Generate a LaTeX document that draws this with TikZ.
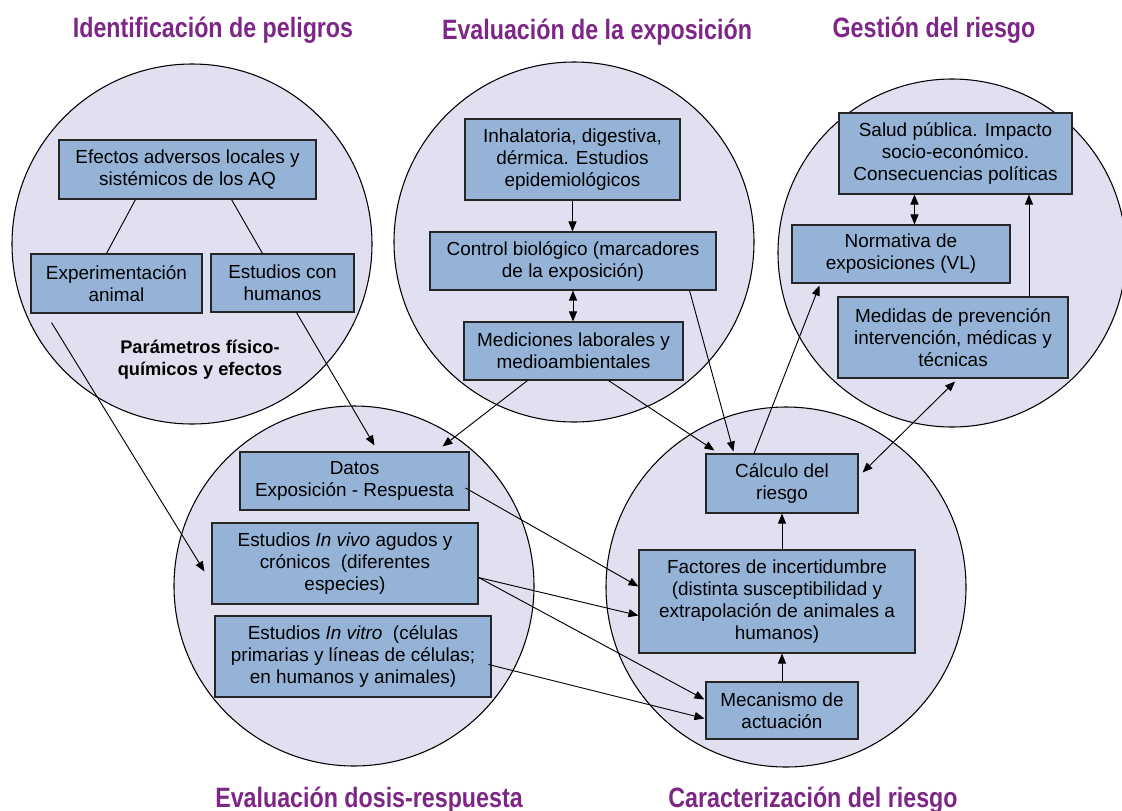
\documentclass[tikz,border=0pt]{standalone}
\usepackage{fontspec}
\setsansfont{Liberation Sans}
\newfontfamily\titlefont[FakeStretch=0.83]{Liberation Sans}
\usetikzlibrary{arrows.meta, calc}
\definecolor{circlefill}{RGB}{224,224,241}
\definecolor{boxfill}{RGB}{149,179,215}
\definecolor{titlepurple}{RGB}{125,38,135}

\begin{document}
\begin{tikzpicture}[x=0.75pt, y=-0.75pt, font=\sffamily\fontsize{14.2}{16.5}\selectfont]
	\tikzset{
		stage/.style={draw=black, fill=circlefill, line width=0.8pt},
		item/.style={draw=black!85, fill=boxfill, line width=0.8pt, align=center, inner sep=0pt},
		heading/.style={text=titlepurple, font=\titlefont\bfseries\fontsize{21}{25}\selectfont, anchor=base},
		link/.style={line width=0.7pt},
		flow/.style={link, -{Triangle[length=7.5pt, width=6pt]}},
		both/.style={link, {Triangle[length=7.5pt, width=6pt]}-{Triangle[length=7.5pt, width=6pt]}},
	}
	\useasboundingbox (0,0) rectangle (1122,811);

	\coordinate (peligros) at (192,244);
	\coordinate (exposicion) at (574,242);
	\coordinate (gestion) at (952,253);
	\coordinate (dosis) at (354,586);
	\coordinate (caracter) at (786,587);

	\draw[stage] (peligros) circle[radius=135pt];
	\draw[stage] (exposicion) circle[radius=135pt];
	\draw[stage] (gestion) circle[radius=130.5pt];
	\draw[stage] (dosis) circle[radius=135pt];
	\draw[stage] (caracter) circle[radius=135pt];

	\node[heading] (tpeligros) at (213,37) {Identificación de peligros};
	\node[heading] (texposicion) at (597,39) {Evaluación de la exposición};
	\node[heading] (tgestion) at (934,37) {Gestión del riesgo};
	\node[heading] (tdosis) at (369,807) {Evaluación dosis-respuesta};
	\node[heading] (tcaracter) at (813,807) {Caracterización del riesgo};

	\node[item, minimum width=192.75pt, minimum height=44.25pt] (efectos) at (187.5,169.5) {Efectos adversos locales y\\sistémicos de los AQ};
	\node[item, minimum width=128.25pt, minimum height=44.25pt] (animal) at (116.5,283.5) {Experimentación\\animal};
	\node[item, minimum width=107.25pt, minimum height=43.5pt] (humanos) at (282.5,283) {Estudios con\\humanos};
	\node[align=center, font=\sffamily\bfseries\fontsize{13.7}{16.5}\selectfont] (parametros) at (200,360) {Parámetros físico-\\químicos y efectos};

	\node[item, minimum width=161.25pt, minimum height=60.75pt] (vias) at (572.5,159.5) {Inhalatoria, digestiva,\\dérmica. Estudios\\epidemiológicos};
	\node[item, minimum width=214.5pt, minimum height=43.5pt] (control) at (573,261) {Control biológico (marcadores\\de la exposición)};
	\node[item, minimum width=164.25pt, minimum height=43.5pt] (mediciones) at (573.5,351) {Mediciones laborales y\\medioambientales};

	\node[item, minimum width=174.75pt, minimum height=60.75pt] (salud) at (955.5,153.5) {Salud pública. Impacto\\socio-económico.\\Consecuencias políticas};
	\node[item, minimum width=163.5pt, minimum height=43.5pt] (normativa) at (901,254) {Normativa de\\exposiciones (VL)};
	\node[item, minimum width=172.5pt, minimum height=60.75pt] (medidas) at (953,337.5) {Medidas de prevención\\intervención, médicas y\\técnicas};

	\node[item, minimum width=171.75pt, minimum height=43.5pt] (datos) at (354.5,481) {Datos\\Exposición - Respuesta};
	\node[item, minimum width=199.5pt, minimum height=60.75pt] (invivo) at (345,563.5) {Estudios \textit{In vivo} agudos y\\crónicos\ \ (diferentes\\especies)};
	\node[item, minimum width=207pt, minimum height=60.75pt] (invitro) at (353,656.5) {Estudios \textit{In vitro}\ \ (células\\primarias y líneas de células;\\en humanos y animales)};

	\node[item, minimum width=114pt, minimum height=44.25pt] (calculo) at (782,483.5) {Cálculo del\\riesgo};
	\node[item, minimum width=207pt, minimum height=77.25pt] (factores) at (777,601.5) {Factores de incertidumbre\\(distinta susceptibilidad y\\extrapolación de animales a\\humanos)};
	\node[item, minimum width=114pt, minimum height=42.75pt] (mecanismo) at (782,710.5) {Mecanismo de\\actuación};

	\draw[link] ($(efectos.south)+(-52,0)$) -- ($(animal.north)+(-10,0)$);
	\draw[link] ($(efectos.south)+(44,0)$) -- ($(humanos.north)+(-20,0)$);

	\draw[flow] (vias.south) -- (vias.south |- control.north);
	\draw[both] (control.south) -- (control.south |- mediciones.north);

	\draw[both] ($(normativa.north west)+(123,0)$) -- ($(salud.south west)+(76,0)$);
	\draw[flow] ($(medidas.north)+(76,0)$) -- ($(salud.south)+(73.5,0)$);

	\draw[flow] (calculo.south |- factores.north) -- (calculo.south);
	\draw[flow] (mecanismo.north) -- (mecanismo.north |- factores.south);

	\draw[flow] ($(animal.south west)+(21,9)$) -- ($(invivo.west)+(-7,8)$);
	\draw[flow] ($(humanos.south)+(14,0)$) -- ($(datos.north)+(20,-6)$);
	\draw[flow] ($(mediciones.south)+(-46,0)$) -- ($(datos.north east)+(-27,-5)$);
	\draw[flow] ($(mediciones.south)+(35,0)$) -- ($(calculo.north west)+(9,-3)$);
	\draw[flow] ($(control.south east)+(-27,0)$) -- ($(calculo.north west)+(28,-2)$);
	\draw[flow] ($(calculo.north)+(-28,0)$) -- ($(normativa.south west)+(28,2)$);
	\draw[both] ($(calculo.east)+(4,-11)$) -- ($(medidas.south)+(2,3)$);

	\draw[flow] ($(datos.east)+(-4,7)$) -- ($(factores.west)+(0,-15)$);
	\draw[flow] ($(invivo.east)+(0,14)$) -- ($(factores.west)+(0,14)$);
	\draw[flow] ($(invivo.east)+(0,14)$) -- ($(mecanismo.west)+(-1,-11)$);
	\draw[flow] ($(invitro.east)+(-3,8)$) -- ($(mecanismo.west)+(-1,8)$);
\end{tikzpicture}
\end{document}
